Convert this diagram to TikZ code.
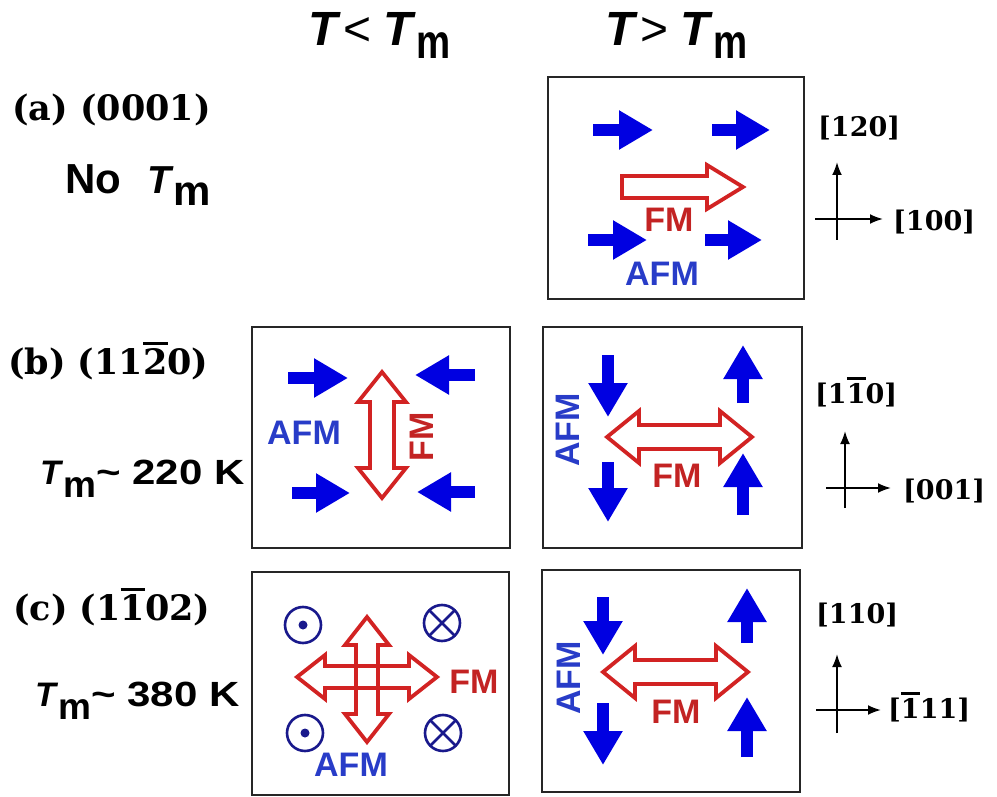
\documentclass[tikz,border=0pt]{standalone}
\usepackage{fontspec}
\usepackage{graphicx}
\setmainfont{Liberation Sans}
\newfontfamily\sfont{Liberation Sans}
\newfontfamily\serfont{DejaVu Serif}
\usetikzlibrary{arrows.meta}

\definecolor{spinblue}{RGB}{0,0,225}
\definecolor{afmblue}{RGB}{40,60,200}
\definecolor{fmred}{RGB}{210,35,35}
\definecolor{fmtext}{RGB}{195,35,35}
\definecolor{circblue}{RGB}{25,25,140}

\newcommand\fsz[1]{\fontsize{#1}{#1}\selectfont}
\newcommand\ovbar[1]{\vbox{\hrule height 3pt\kern 3pt\hbox{#1}}}
% horizontal double arrow: cx cy L s h k
\newcommand\hdbl[6]{({#1-#3},{#2}) -- ({#1-#3+#6},{#2-#5}) -- ({#1-#3+#6},{#2-#4}) -- ({#1+#3-#6},{#2-#4}) -- ({#1+#3-#6},{#2-#5}) -- ({#1+#3},{#2}) -- ({#1+#3-#6},{#2+#5}) -- ({#1+#3-#6},{#2+#4}) -- ({#1-#3+#6},{#2+#4}) -- ({#1-#3+#6},{#2+#5}) -- cycle}
% vertical double arrow: cx cy L s h k
\newcommand\vdbl[6]{({#1},{#2-#3}) -- ({#1+#5},{#2-#3+#6}) -- ({#1+#4},{#2-#3+#6}) -- ({#1+#4},{#2+#3-#6}) -- ({#1+#5},{#2+#3-#6}) -- ({#1},{#2+#3}) -- ({#1-#5},{#2+#3-#6}) -- ({#1-#4},{#2+#3-#6}) -- ({#1-#4},{#2-#3+#6}) -- ({#1-#5},{#2-#3+#6}) -- cycle}
% single arrow: x0 x1 y s h k
\newcommand\sgl[6]{({#1},{#3-#4}) -- ({#2-#6},{#3-#4}) -- ({#2-#6},{#3-#5}) -- ({#2},{#3}) -- ({#2-#6},{#3+#5}) -- ({#2-#6},{#3+#4}) -- ({#1},{#3+#4}) -- cycle}

\tikzset{
  panelbox/.style={draw=black!85, line width=2.8pt},
  spin/.style={draw=spinblue, line width=12pt, -{Triangle[width=37pt,length=34pt]}},
  fmarrow/.style={draw=fmred, line width=3.8pt, line join=miter},
  afmlab/.style={text=afmblue, font=\sfont\bfseries\fsz{34}, inner sep=0pt},
  fmlab/.style={text=fmtext, font=\sfont\bfseries\fsz{34}, inner sep=0pt},
  axisline/.style={line width=2pt, -{Latex[length=13pt,width=10pt]}},
  axlab/.style={font=\serfont\bfseries\fsz{27}, inner sep=0pt, anchor=base west},
  leftlab/.style={font=\serfont\bfseries\fsz{35}, inner sep=0pt, anchor=base west},
  hdr/.style={font=\sfont\bfseries\fsz{48}, inner sep=0pt, anchor=base west},
  tmlab/.style={font=\sfont\bfseries\fsz{35}, inner sep=0pt, anchor=base west},
  circ/.style={draw=circblue, line width=2.6pt},
}

\begin{document}
\begin{tikzpicture}[x=1pt,y=-1pt]
\useasboundingbox (0,0) rectangle (997,797);
\fill[white] (0,0) rectangle (997,797);

% headers
\node[hdr] (h1) at (308,46) {\textit{T}\kern3pt{\mdseries<}\kern12pt\textit{T}\raisebox{-13pt}{\scalebox{0.8}[1]{m}}};
\node[hdr] (h2) at (605,46) {\textit{T}\kern3pt{\mdseries>}\kern12pt\textit{T}\raisebox{-13pt}{\scalebox{0.8}[1]{m}}};

% left labels
\node[leftlab] (la) at (12,121) {(a) (0001)};
\node[anchor=base west, inner sep=0pt, font=\sfont\bfseries\fsz{42}] (noT) at (65,194) {No\kern26pt{\fsz{39}\textit{T}}\raisebox{-12pt}{m}};
\node[leftlab] (lb) at (8,374) {(b) (11\ovbar{2}0)};
\node[tmlab] (tmb) at (40,484) {{\fsz{34}\textit{T}}\raisebox{-13pt}{\fsz{37}m}\scalebox{1.2}[1]{\textasciitilde\ 220 K}};
\node[leftlab] (lc) at (13,620) {(c) (1\ovbar{1}02)};
\node[tmlab] (tmc) at (35,706) {{\fsz{34}\textit{T}}\raisebox{-13pt}{\fsz{37}m}\scalebox{1.2}[1]{\textasciitilde\ 380 K}};

% boxes
\draw[panelbox] (548,77) rectangle (804,299);
\draw[panelbox] (252,327) rectangle (510,548);
\draw[panelbox] (543,327) rectangle (802,548);
\draw[panelbox] (252,572) rectangle (509,795);
\draw[panelbox] (542,570) rectangle (800,792);

% ---- panel (a), T > Tm
\draw[spin] (593,130) -- (653,130);
\draw[spin] (712,130) -- (770,130);
\draw[spin] (588,240) -- (647,240);
\draw[spin] (705,240) -- (762,240);
\draw[fmarrow, fill=white] \sgl{622}{743}{187}{11}{22}{36};
\node[fmlab] (fma) at (669,220) {FM};
\node[afmlab] (afma) at (662,274) {AFM};

% ---- panel (b), T < Tm
\draw[spin] (288,378) -- (348,378);
\draw[spin] (475,375) -- (415,375);
\draw[spin] (292,493) -- (350,493);
\draw[spin] (475,492) -- (417,492);
\draw[fmarrow, fill=white] \vdbl{382}{435}{63}{12}{24}{30};
\node[afmlab] (afmbl) at (304,433) {AFM};
\node[fmlab, rotate=90] (fmbl) at (422,437) {FM};

% ---- panel (b), T > Tm
\draw[spin] (608,355) -- (608,417);
\draw[spin] (608,462) -- (608,522);
\draw[spin] (743,403) -- (743,345);
\draw[spin] (743,515) -- (743,453);
\draw[fmarrow, fill=white] \hdbl{679.5}{437}{72.5}{12}{26}{32};
\node[fmlab] (fmbr) at (677,476) {FM};
\node[afmlab, rotate=90] (afmbr) at (568,430) {AFM};

% ---- panel (c), T < Tm
\draw[circ] (303,625) circle (18);
\fill[circblue] (303,625) circle (4.5);
\draw[circ] (305,733) circle (18);
\fill[circblue] (305,733) circle (4.5);
\draw[circ] (442,623) circle (18);
\draw[circ] (429.3,610.3) -- (454.7,635.7) (429.3,635.7) -- (454.7,610.3);
\draw[circ] (443,733) circle (18);
\draw[circ] (430.3,720.3) -- (455.7,745.7) (430.3,745.7) -- (455.7,720.3);
\fill[white] \hdbl{367}{677}{70}{11}{22}{28};
\fill[white] \vdbl{367}{679.5}{62.5}{11}{22}{28};
\draw[fmarrow] \hdbl{367}{677}{70}{11}{22}{28};
\draw[fmarrow] \vdbl{367}{679.5}{62.5}{11}{22}{28};
\node[fmlab] (fmcl) at (474,682) {FM};
\node[afmlab] (afmcl) at (351,765) {AFM};

% ---- panel (c), T > Tm
\draw[spin] (603,597) -- (603,655);
\draw[spin] (603,703) -- (603,765);
\draw[spin] (747,643) -- (747,588);
\draw[spin] (747,757) -- (747,697);
\draw[fmarrow, fill=white] \hdbl{675.5}{672}{72.5}{12}{26}{32};
\node[fmlab] (fmcr) at (676,712) {FM};
\node[afmlab, rotate=90] (afmcr) at (569,678) {AFM};

% ---- axes
\coordinate (a0) at (837,240); \coordinate (a1) at (837,162);
\coordinate (a2) at (815,219); \coordinate (a3) at (883,219);
\draw[axisline] (a0) -- (a1);
\draw[axisline] (a2) -- (a3);
\node[axlab] (ax1) at (818,137) {[120]};
\node[axlab] (ax2) at (893,230) {[100]};

\coordinate (b0) at (845,508); \coordinate (b1) at (845,431);
\coordinate (b2) at (826,488); \coordinate (b3) at (891,488);
\draw[axisline] (b0) -- (b1);
\draw[axisline] (b2) -- (b3);
\node[axlab] (bx1) at (815,403) {[1\ovbar{1}0]};
\node[axlab] (bx2) at (903,499) {[001]};

\coordinate (c0) at (837,733); \coordinate (c1) at (837,654);
\coordinate (c2) at (816,710); \coordinate (c3) at (881,710);
\draw[axisline] (c0) -- (c1);
\draw[axisline] (c2) -- (c3);
\node[axlab] (cx1) at (816,623) {[110]};
\node[axlab] (cx2) at (888,718) {[\ovbar{1}11]};
\end{tikzpicture}
\end{document}
